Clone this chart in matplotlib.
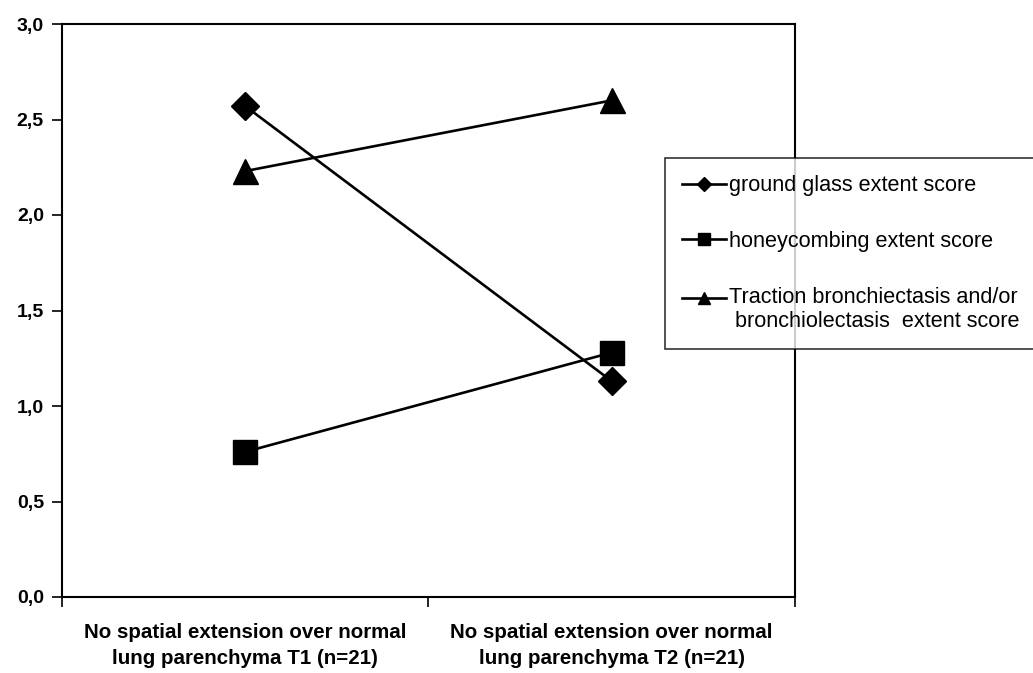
import matplotlib
matplotlib.use('Agg')
import matplotlib.pyplot as plt
from matplotlib.legend_handler import HandlerLine2D

plt.rcParams['font.family'] = ['Liberation Sans', 'DejaVu Sans']

# datos
categories = ["No spatial extension over normal\nlung parenchyma T1 (n=21)",
              "No spatial extension over normal\nlung parenchyma T2 (n=21)"]
ground_glass = [2.57, 1.13]
honeycombing = [0.76, 1.28]
traction = [2.23, 2.60]
y_ticks = [0.0, 0.5, 1.0, 1.5, 2.0, 2.5, 3.0]


class HandlerUp(HandlerLine2D):
    # sube el simbolo a la primera linea de una etiqueta de dos lineas
    def create_artists(self, legend, orig_handle, xdescent, ydescent,
                       width, height, fontsize, trans):
        return super().create_artists(legend, orig_handle, xdescent,
                                      ydescent - 17, width, height,
                                      fontsize, trans)


fig = plt.figure(figsize=(10.33, 6.73), dpi=100)
ax = fig.add_axes([62/1033, 1-597/673, (795-62)/1033, (597-24)/673])

x = [0.5, 1.5]
l1, = ax.plot(x, ground_glass, color='black', lw=1.9, marker='D', ms=14,
              label='ground glass extent score')
l2, = ax.plot(x, honeycombing, color='black', lw=1.9, marker='s', ms=17,
              label='honeycombing extent score')
l3, = ax.plot(x, traction, color='black', lw=1.9, marker='^', ms=18,
              label='Traction bronchiectasis and/or\n bronchiolectasis  extent score')

ax.set_xlim(0, 2)
ax.set_ylim(0, 3)
ax.set_yticks(y_ticks)
ax.set_yticklabels([f"{v:.1f}".replace('.', ',') for v in y_ticks],
                   fontsize=14, fontweight='bold')
ax.set_xticks([0, 1, 2])
ax.set_xticklabels([])
ax.set_xticks(x, minor=True)
ax.set_xticklabels(categories, minor=True, fontsize=14.8, fontweight='bold',
                   linespacing=1.45)
ax.tick_params(axis='x', which='minor', length=0, pad=19)
ax.tick_params(axis='x', which='major', length=7, width=1.2, direction='out')
ax.tick_params(axis='y', length=7, width=1.2, direction='out', pad=6)
for s in ax.spines.values():
    s.set_linewidth(1.5)

leg = fig.legend(handles=[l1, l2, l3], loc='upper left',
                 bbox_to_anchor=(665/1033, 1-158/673), frameon=True,
                 fancybox=False, edgecolor='black', fontsize=15.6,
                 markerscale=0.5, handlelength=2.0, handletextpad=0.15,
                 labelspacing=1.6, borderpad=0.8, borderaxespad=0,
                 handler_map={l3: HandlerUp()})
leg.get_frame().set_linewidth(1.2)

fig.savefig('out.png', dpi=100)
